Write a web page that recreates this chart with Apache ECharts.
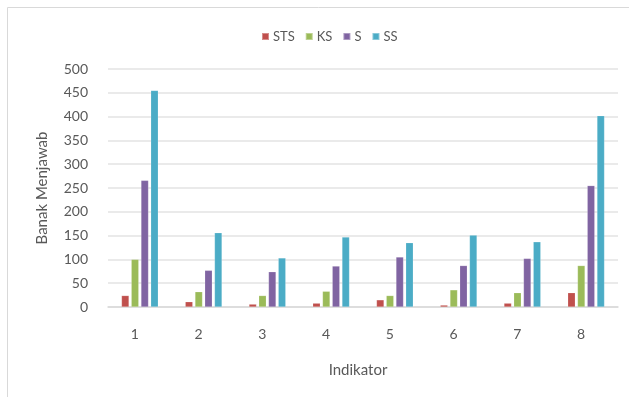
<!DOCTYPE html>
<html>
<head>
<meta charset="utf-8">
<script src="https://cdn.jsdelivr.net/npm/echarts@6/dist/echarts.min.js"></script>
<style>
html,body{margin:0;padding:0;background:#fff;}
#c{width:629px;height:397px;}
</style>
</head>
<body>
<div id="c"></div>
<script>
const categories = ['1','2','3','4','5','6','7','8'];
const seriesNames = ['STS','KS','S','SS'];
const STS = [24, 11, 6, 8, 15, 4, 8, 30];
const KS  = [100, 32, 24, 33, 24, 36, 30, 87];
const S   = [266, 77, 74, 86, 105, 87, 102, 255];
const SS  = [455, 156, 103, 147, 135, 151, 137, 402];
const yTicks = [0, 50, 100, 150, 200, 250, 300, 350, 400, 450, 500];

const colors = ['#C0504D', '#9BBB59', '#8064A2', '#4BACC6'];
const values = [STS, KS, S, SS];
const font = 'Lato, "Open Sans", sans-serif';

const chart = echarts.init(document.getElementById('c'), null, {renderer: 'canvas'});
chart.setOption({
  animation: false,
  color: colors,
  graphic: [{
    type: 'rect', shape: {x: 7.5, y: 7.5, width: 640, height: 400},
    style: {fill: 'none', stroke: '#d9d9d9', lineWidth: 1}, z: -1
  }],
  legend: {
    top: 25, left: 256,
    itemWidth: 7, itemHeight: 7, itemGap: 10,
    icon: 'rect',
    textStyle: {color: '#595959', fontSize: 13, fontFamily: font, padding: [0,0,0,-1]},
    data: seriesNames
  },
  grid: {left: 108, width: 510, top: 69, bottom: 90},
  xAxis: {
    type: 'category', data: categories,
    axisLine: {lineStyle: {color: '#d9d9d9', width: 1.5}},
    axisTick: {show: false},
    axisLabel: {color: '#595959', fontSize: 14, fontFamily: font, margin: 20, padding: [0, 10, 0, 0]},
    name: 'Indikator', nameLocation: 'middle', nameGap: 56,
    nameTextStyle: {color: '#595959', fontSize: 15, fontFamily: font, padding: [0, 10, 0, 0]}
  },
  yAxis: {
    type: 'value', min: yTicks[0], max: yTicks[yTicks.length-1], interval: yTicks[1]-yTicks[0],
    axisLine: {show: false}, axisTick: {show: false},
    splitLine: {lineStyle: {color: '#e3e3e3', width: 1.5}},
    axisLabel: {color: '#595959', fontSize: 14, fontFamily: font, margin: 20},
    name: 'Banak Menjawab', nameLocation: 'middle', nameGap: 58,
    nameTextStyle: {color: '#595959', fontSize: 15, fontFamily: font}
  },
  series: seriesNames.map((n, i) => ({
    name: n, type: 'bar', data: values[i],
    barWidth: 7.5, barGap: '30%',
    itemStyle: {color: colors[i], borderColor: 'rgba(255,255,255,0.35)', borderWidth: 0.5}
  }))
});
</script>
</body>
</html>
